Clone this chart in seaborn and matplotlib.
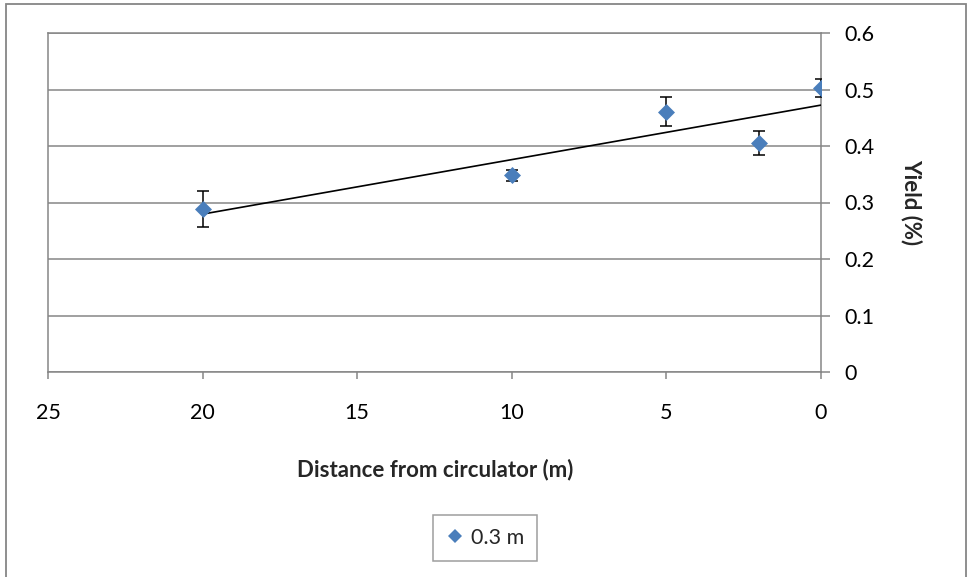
import numpy as np
import pandas as pd
import matplotlib
matplotlib.use("Agg")
import matplotlib.pyplot as plt
from matplotlib.patches import Rectangle
from matplotlib.lines import Line2D
import seaborn as sns

# Yield measured at several distances from the circulator (0.3 m series)
distance_m = [20, 10, 5, 2, 0]
yield_pct = [0.289, 0.348, 0.461, 0.405, 0.502]
yield_err = [0.032, 0.010, 0.025, 0.021, 0.016]
series_name = "0.3 m"
x_ticks = [25, 20, 15, 10, 5, 0]
y_ticks = [0, 0.1, 0.2, 0.3, 0.4, 0.5, 0.6]

sns.set_theme(style="white")
plt.rcParams["font.family"] = ["Lato", "DejaVu Sans"]

grey = "#868686"
blue = "#4A7EBB"

df = pd.DataFrame({"distance": distance_m, "yield": yield_pct, "err": yield_err})

fig = plt.figure(figsize=(9.69, 5.77), dpi=100)
ax = fig.add_axes([48 / 969, 1 - 372 / 577, (821 - 48) / 969, (372 - 33) / 577])

# error bars under the markers
ax.errorbar(df["distance"], df["yield"], yerr=df["err"], fmt="none",
            ecolor="black", elinewidth=1.1, capsize=4, capthick=1.1, zorder=3)

sns.scatterplot(data=df, x="distance", y="yield", marker="D", s=75,
                color=blue, edgecolor=blue, linewidth=0, ax=ax, zorder=4,
                legend=False)

# linear trend line fitted to the points
slope, intercept = np.polyfit(df["distance"], df["yield"], 1)
xs = np.array([min(distance_m), max(distance_m)])
ax.plot(xs, slope * xs + intercept, color="black", lw=1.2, zorder=3.5)

ax.set_xlim(25, 0)
ax.set_ylim(0, 0.6)
ax.set_xticks(x_ticks)
ax.set_xticklabels([str(t) for t in x_ticks])
ax.set_yticks(y_ticks)
ax.set_yticklabels(["0" if t == 0 else f"{t:.1f}" for t in y_ticks])

ax.yaxis.tick_right()
ax.grid(axis="y", color=grey, lw=1.1)
ax.grid(axis="x", visible=False)
for s in ax.spines.values():
    s.set_visible(True)
    s.set_color(grey)
    s.set_linewidth(1.1)

ax.tick_params(axis="x", which="major", bottom=True, top=False, direction="out",
               length=5, width=1.1, color=grey, pad=17, labelsize=15.5,
               labelcolor="black")
ax.tick_params(axis="y", which="major", right=True, left=False, direction="out",
               length=6.5, width=1.1, color=grey, pad=10, labelsize=15.5,
               labelcolor="black")

ax.set_xlabel("")
ax.set_ylabel("")
fig.text(435 / 969, 1 - 470 / 577, "Distance from circulator (m)",
         ha="center", va="center", fontsize=16, fontweight="bold")
fig.text(912 / 969, 1 - 202 / 577, "Yield (%)", rotation=-90,
         ha="center", va="center", fontsize=16, fontweight="bold")

handle = Line2D([], [], linestyle="none", marker="D", markersize=7.5,
                color=blue, markeredgewidth=0)
leg = fig.legend([handle], [series_name], loc="center",
                 bbox_to_anchor=(485 / 969, 1 - 538 / 577), fontsize=15.5,
                 frameon=True, fancybox=False, handlelength=0.8,
                 handletextpad=0.35, borderpad=0.6, borderaxespad=0)
leg.get_frame().set_edgecolor(grey)
leg.get_frame().set_linewidth(1.1)

# outer chart border
fig.patches.append(Rectangle((6 / 969, -0.05), (966 - 6) / 969, 1.05 - 4 / 577,
                             transform=fig.transFigure, fill=False,
                             edgecolor=grey, lw=1.3, clip_on=False))

fig.savefig("out.png", dpi=100)
